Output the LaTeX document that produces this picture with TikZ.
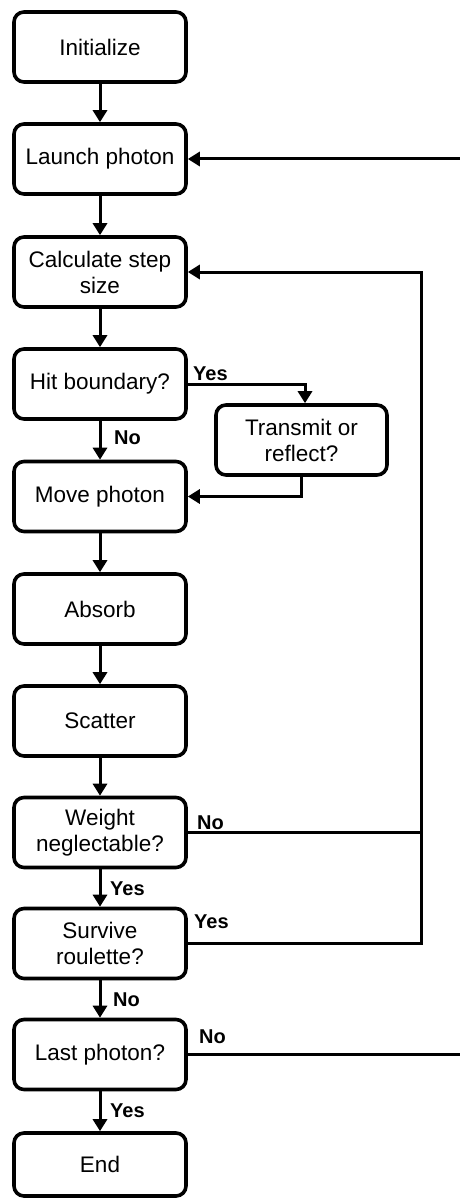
\documentclass[tikz,border=0pt]{standalone}
\usepackage{fontspec}
\setmainfont{Liberation Sans}
\usetikzlibrary{arrows.meta}
\begin{document}
\begin{tikzpicture}[x=1pt,y=-1pt,
  box/.style={draw,line width=3.6pt,rounded corners=10pt,minimum width=172pt,minimum height=70pt,
    inner sep=0pt,align=center,font=\fontsize{22.5}{26}\selectfont},
  conn/.style={line width=3pt},
  arr/.style={conn,-{Triangle[length=12pt,width=14pt]}},
  lbl/.style={anchor=base west,inner sep=0pt,font=\fontsize{20}{24}\selectfont\bfseries}]
\useasboundingbox (0,0) rectangle (460,1201);
\node[box] (init) at (100,47) {Initialize};
\node[box] (launch) at (100,159) {Launch photon};
\node[box] (calc) at (100,272) {Calculate step\\size};
\node[box] (hit) at (100,384) {Hit boundary?};
\node[box,minimum width=171pt] (tr) at (301.5,440) {Transmit or\\reflect?};
\node[box] (move) at (100,496.5) {Move photon};
\node[box] (absorb) at (100,609) {Absorb};
\node[box] (scatter) at (100,721) {Scatter};
\node[box] (weight) at (100,832.5) {Weight\\neglectable?};
\node[box] (survive) at (100,943.5) {Survive\\roulette?};
\node[box] (last) at (100,1054.5) {Last photon?};
\node[box,minimum height=63pt] (end) at (100,1164.5) {End};
\coordinate (rv) at (421,272);
\coordinate (redge) at (462,159);
\coordinate (hy) at (305,384);
\draw[arr] (init) -- (launch);
\draw[arr] (launch) -- (calc);
\draw[arr] (calc) -- (hit);
\draw[arr] (hit) -- (move);
\draw[arr] (hit.east) -- (hy) -- (hy |- tr.north);
\draw[arr] (tr.south) |- (move.east);
\draw[arr] (move) -- (absorb);
\draw[arr] (absorb) -- (scatter);
\draw[arr] (scatter) -- (weight);
\draw[arr] (weight) -- (survive);
\draw[arr] (survive) -- (last);
\draw[arr] (last) -- (end);
\draw[conn] (weight.east) -- (weight.east -| rv);
\draw[arr] (survive.east) -| (rv) -- (calc.east);
\draw[arr] (redge) -- (launch.east);
\draw[conn] (last.east) -- (last.east -| redge);
\node[lbl] (l1) at (193,380) {Yes};
\node[lbl] (l2) at (114,444) {No};
\node[lbl] (l3) at (197,829) {No};
\node[lbl] (l4) at (110,895) {Yes};
\node[lbl] (l5) at (194,928) {Yes};
\node[lbl] (l6) at (113,1006) {No};
\node[lbl] (l7) at (199,1043) {No};
\node[lbl] (l8) at (110,1117) {Yes};
\end{tikzpicture}
\end{document}
